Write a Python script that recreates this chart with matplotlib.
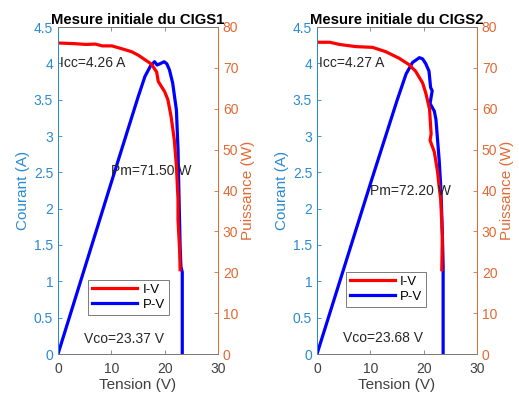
import matplotlib
matplotlib.use("Agg")
from matplotlib import pyplot as plt

plt.rcParams['font.family'] = ['Liberation Sans', 'DejaVu Sans']

BLUE_AX = '#2A8AD0'
ORANGE_AX = '#E06A35'
GRAY = '#7a7a7a'

# CIGS1 : I-V (A) and P-V (W) versus tension (V)
v_iv1 = [0, 3.3, 5.2, 7.0, 8.3, 10.1, 12.0, 13.8, 15.1, 16.3, 17.5, 18.5, 18.8,
         19.4, 20.0, 20.6, 21.2, 21.8, 22.2, 22.5, 22.5, 22.8, 22.9]
i_iv1 = [4.28, 4.27, 4.26, 4.265, 4.24, 4.24, 4.20, 4.16, 4.11, 4.05, 3.99, 3.88, 3.75,
         3.68, 3.61, 3.50, 3.27, 2.95, 2.59, 2.13, 1.85, 1.44, 1.16]
v_pv1 = [0, 5, 10, 15, 16.3, 17.4, 18.1, 18.6, 19.1, 19.9, 20.4, 20.9, 21.5, 22.2,
         22.5, 22.7, 22.9, 23.05, 23.3, 23.3]
p_pv1 = [0, 21.0, 42.0, 62.8, 67.9, 70.6, 71.5, 70.7, 71.0, 71.5, 71.0, 69.5, 66.3,
         59.7, 50.1, 37.9, 26.3, 21.4, 20.0, 0]

# CIGS2
v_iv2 = [0, 2.4, 4.2, 7.3, 10.4, 12.9, 15.4, 17.3, 18.5, 19.8, 20.4, 21.1, 21.4,
         21.2, 22.0, 22.6, 23.0, 23.2, 23.5, 23.4]
i_iv2 = [4.29, 4.29, 4.26, 4.23, 4.22, 4.16, 4.07, 3.98, 3.89, 3.73, 3.59, 3.37, 3.03,
         2.94, 2.78, 2.51, 2.24, 2.13, 1.62, 1.16]
v_pv2 = [0, 5, 10, 15, 16.7, 17.9, 19.2, 19.8, 20.4, 21.0, 21.3, 21.6, 21.2, 22.0,
         22.3, 22.6, 22.9, 23.2, 23.3, 23.5, 23.65, 23.65]
p_pv2 = [0, 20.8, 41.6, 62.0, 68.5, 71.3, 72.5, 72.2, 71.0, 69.2, 65.2, 64.4, 61.3,
         59.4, 57.4, 52.5, 47.6, 41.1, 37.8, 29.6, 21.5, 0]

titles = ['Mesure initiale du CIGS1', 'Mesure initiale du CIGS2']
icc_txt = ['Icc=4.26 A', 'Icc=4.27 A']
pm_txt = ['Pm=71.50 W', 'Pm=72.20 W']
vco_txt = ['Vco=23.37 V', 'Vco=23.68 V']
pm_pos = [(10.0, 2.52), (10.0, 2.25)]
vco_pos = [(4.9, 0.2), (4.9, 0.22)]
leg_pos = [(0.19, 0.12), (0.18, 0.145)]

fig = plt.figure(figsize=(5.19, 3.99), dpi=100)
lefts = [58 / 519, 317 / 519]
data = [(v_iv1, i_iv1, v_pv1, p_pv1), (v_iv2, i_iv2, v_pv2, p_pv2)]

for k in range(2):
    ax = fig.add_axes([lefts[k], 45 / 399, 160 / 519, 327 / 399])
    ax2 = ax.twinx()
    v_iv, i_iv, v_pv, p_pv = data[k]
    l1, = ax.plot(v_iv, i_iv, color='red', lw=2.3, label='I-V')
    l2, = ax2.plot(v_pv, p_pv, color='blue', lw=2.3, label='P-V')
    ax.set_zorder(ax2.get_zorder() + 1)
    ax.patch.set_visible(False)

    ax.set_xlim(0, 30)
    ax.set_ylim(0, 4.5)
    ax2.set_ylim(0, 80)
    ax.set_xticks([0, 10, 20, 30])
    ax.set_yticks([0, 0.5, 1, 1.5, 2, 2.5, 3, 3.5, 4, 4.5])
    ax.set_yticklabels(['0', '0.5', '1', '1.5', '2', '2.5', '3', '3.5', '4', '4.5'])
    ax2.set_yticks(range(0, 81, 10))

    ax.tick_params(axis='x', direction='in', top=True, colors=GRAY, labelcolor='#404040',
                   labelsize=10, length=3, width=0.6, pad=6)
    ax.tick_params(axis='y', direction='in', colors=BLUE_AX, labelsize=10, length=3, width=0.6)
    ax2.tick_params(axis='y', direction='in', colors=ORANGE_AX, labelsize=10, length=3, width=0.6)
    for a in (ax, ax2):
        a.spines['left'].set_color(BLUE_AX)
        a.spines['right'].set_color(ORANGE_AX)
        a.spines['top'].set_color(GRAY)
        a.spines['bottom'].set_color(GRAY)
        for s in a.spines.values():
            s.set_linewidth(0.7)

    ax.set_xlabel('Tension (V)', fontsize=11, color='#404040', labelpad=1)
    ax.set_ylabel('Courant (A)', fontsize=11, color=BLUE_AX, labelpad=3)
    ax2.set_ylabel('Puissance (W)', fontsize=11, color=ORANGE_AX, labelpad=2)
    ax.set_title(titles[k], fontsize=10.7, fontweight='bold', pad=2)

    ax.text(0.4, 4.0, icc_txt[k], fontsize=10, color='#262626', va='center')
    ax.text(pm_pos[k][0], pm_pos[k][1], pm_txt[k], fontsize=10, color='#262626', va='center')
    ax.text(vco_pos[k][0], vco_pos[k][1], vco_txt[k], fontsize=10, color='#262626', va='center')

    leg = ax.legend([l1, l2], ['I-V', 'P-V'], loc='lower left', bbox_to_anchor=leg_pos[k],
                    fontsize=9.5, frameon=True, fancybox=False, handlelength=3.4,
                    borderpad=0.3, labelspacing=0.2, handletextpad=0.4, borderaxespad=0)
    leg.get_frame().set_edgecolor('#404040')
    leg.get_frame().set_linewidth(0.6)

fig.savefig('out.png', dpi=100)
